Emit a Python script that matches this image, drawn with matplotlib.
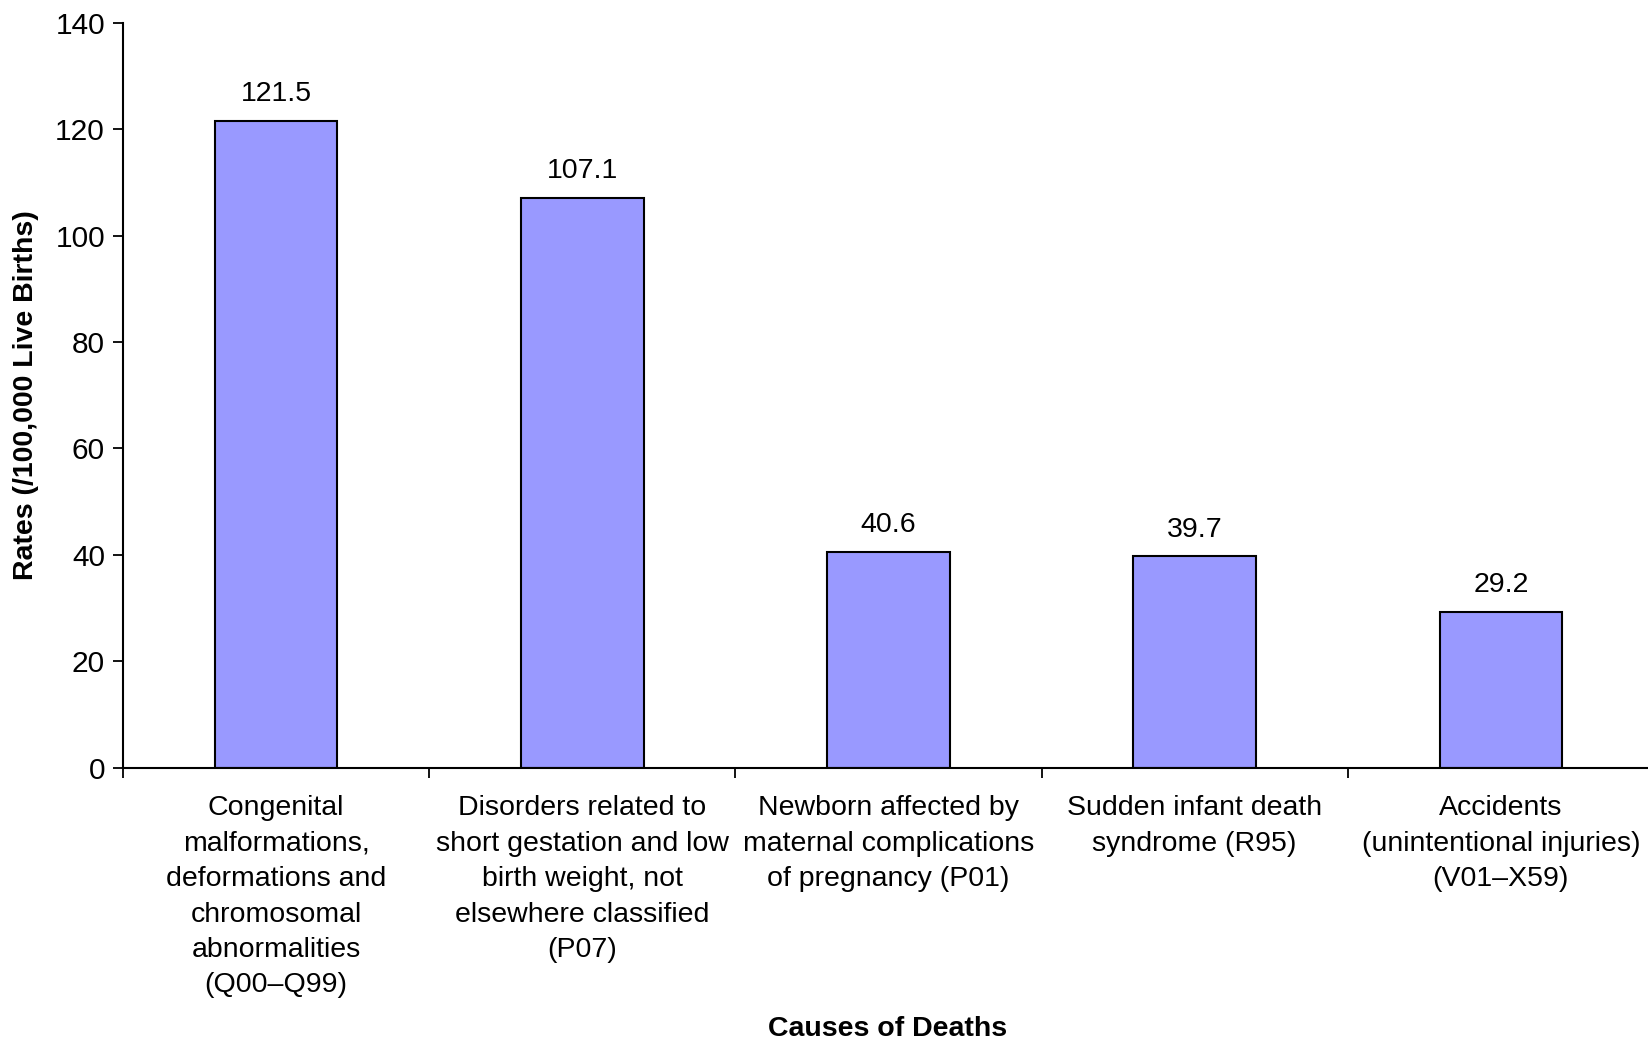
import matplotlib
matplotlib.use("Agg")
import matplotlib.pyplot as plt
import numpy as np

plt.rcParams['font.family'] = ['Liberation Sans', 'DejaVu Sans']

categories = [
    "Congenital\nmalformations,\ndeformations and\nchromosomal\nabnormalities\n(Q00\u2013Q99)",
    "Disorders related to\nshort gestation and low\nbirth weight, not\nelsewhere classified\n(P07)",
    "Newborn affected by\nmaternal complications\nof pregnancy (P01)",
    "Sudden infant death\nsyndrome (R95)",
    "Accidents\n(unintentional injuries)\n(V01\u2013X59)",
]
rates = [121.5, 107.1, 40.6, 39.7, 29.2]
yticks = [0, 20, 40, 60, 80, 100, 120, 140]

fig = plt.figure(figsize=(16.49, 10.43), dpi=100)
ax = fig.add_axes([123 / 1649, 275.3 / 1043, 1 - 123 / 1649 + 0.003, (767.7 - 22.7) / 1043])

x = np.arange(len(categories))
ax.bar(x, rates, width=0.40, color='#9999FF', edgecolor='black', linewidth=1.5, zorder=2)

for xi, v in zip(x, rates):
    ax.annotate(f"{v:.1f}", (xi, v), xytext=(0, 10), textcoords='offset points',
                ha='center', va='bottom', fontsize=20.5)

ax.set_xlim(-0.5, len(categories) - 0.5)
ax.set_ylim(0, 140)
ax.set_yticks(yticks)
ax.tick_params(axis='y', labelsize=21.5, length=7, width=1.3, direction='out', pad=6)

# boundary ticks between categories, labels centred on bars
ax.set_xticks(np.arange(len(categories) + 1) - 0.5)
ax.set_xticklabels([])
ax.tick_params(axis='x', which='major', length=7, width=1.3, direction='out')
ax.set_xticks(x, minor=True)
ax.set_xticklabels(categories, minor=True, fontsize=20.5, linespacing=1.47)
ax.tick_params(axis='x', which='minor', length=0, pad=20)

for s in ['top', 'right']:
    ax.spines[s].set_visible(False)
for s in ['left', 'bottom']:
    ax.spines[s].set_linewidth(1.5)

ax.set_ylabel("Rates (/100,000 Live Births)", fontsize=20.5, fontweight='bold', labelpad=12)
fig.text(888 / 1649, 0.001, "Causes of Deaths", fontsize=20.5, fontweight='bold',
         ha='center', va='bottom')

fig.savefig("out.png", dpi=100)
